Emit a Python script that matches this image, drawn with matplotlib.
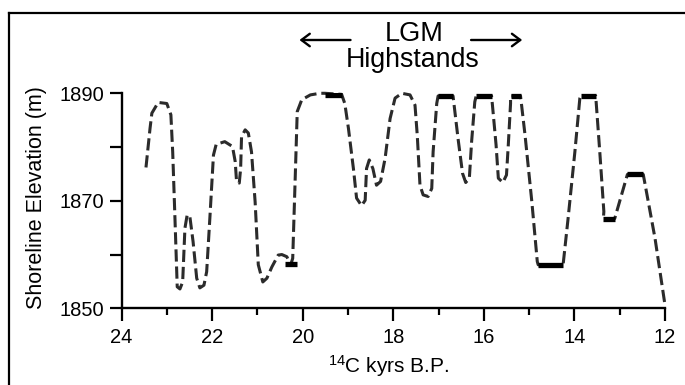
import numpy as np
import matplotlib
matplotlib.use("Agg")
import matplotlib.pyplot as plt
from matplotlib.lines import Line2D
from matplotlib.patches import FancyArrowPatch

# Estilo general
plt.rcParams.update({'font.family': 'Liberation Sans', 'mathtext.fontset': 'custom',
                     'mathtext.rm': 'Liberation Sans', 'mathtext.default': 'regular',
                     'figure.facecolor': 'white'})

# Curva de nivel del lago (edad 14C en kyrs, elevacion en m)
age = [23.46, 23.37, 23.33, 23.19, 23.00, 22.91, 22.87, 22.82, 22.77, 22.71,
       22.65, 22.60, 22.55, 22.49, 22.42, 22.34, 22.27, 22.18, 22.12, 22.05,
       21.97, 21.91, 21.72, 21.55, 21.49, 21.46, 21.40, 21.37, 21.35, 21.27,
       21.20, 21.13, 21.05, 20.98, 20.88, 20.79, 20.68, 20.54, 20.46, 20.35,
       20.30, 20.26, 20.22, 20.17, 20.12, 20.02, 19.83, 19.62, 19.51, 19.14,
       19.07, 18.99, 18.88, 18.81, 18.70, 18.62, 18.59, 18.53, 18.45, 18.37,
       18.28, 18.18, 18.07, 17.96, 17.81, 17.63, 17.52, 17.47, 17.41, 17.34,
       17.23, 17.15, 17.12, 17.04, 17.01, 16.68, 16.57, 16.47, 16.40, 16.32,
       16.27, 16.20, 16.17, 15.83, 15.81, 15.73, 15.68, 15.58, 15.50, 15.46,
       15.41, 15.41, 15.19, 15.09, 14.94, 14.82, 14.80, 14.25, 14.14, 13.99,
       13.88, 13.86, 13.53, 13.44, 13.35, 13.36, 13.11, 12.83, 12.48, 12.22,
       12.00]
elev = [1876.2, 1883.5, 1886.3, 1888.3, 1888.1, 1886.0, 1879.1, 1866.7, 1854.0, 1853.6,
        1854.9, 1864.9, 1867.4, 1867.0, 1862.4, 1855.6, 1853.8, 1854.3, 1856.8, 1866.7,
        1878.5, 1880.5, 1881.0, 1880.1, 1877.3, 1873.6, 1873.3, 1876.0, 1881.9, 1883.2,
        1882.6, 1879.1, 1869.8, 1858.1, 1854.9, 1855.6, 1857.7, 1859.9, 1860.0, 1859.6,
        1858.7, 1858.2, 1859.3, 1872.9, 1886.6, 1888.8, 1889.7, 1890.0, 1890.0, 1889.8,
        1888.1, 1883.5, 1876.0, 1870.5, 1869.1, 1870.1, 1876.0, 1877.6, 1876.0, 1872.9,
        1873.6, 1877.9, 1885.3, 1889.1, 1890.0, 1889.7, 1887.8, 1882.2, 1872.9, 1871.1,
        1870.8, 1872.3, 1879.1, 1888.1, 1889.5, 1889.5, 1881.6, 1875.1, 1873.4, 1874.2,
        1881.0, 1888.4, 1889.5, 1889.5, 1887.8, 1880.4, 1874.2, 1873.4, 1874.8, 1880.4,
        1888.1, 1889.5, 1889.5, 1882.2, 1869.8, 1858.7, 1858.1, 1858.1, 1866.7, 1879.1,
        1889.1, 1889.5, 1889.5, 1879.1, 1868.0, 1866.7, 1866.7, 1874.9, 1874.9, 1863.0,
        1850.6]

# Niveles fechados (barras negras)
bar_old = [20.39, 19.51, 17.01, 16.17, 15.41, 14.80, 13.86, 13.36, 12.83]
bar_young = [20.13, 19.14, 16.68, 15.83, 15.19, 14.25, 13.53, 13.11, 12.48]
bar_elev = [1858.2, 1889.6, 1889.5, 1889.5, 1889.5, 1858.1, 1889.5, 1866.7, 1874.9]

x_ticks = [24, 22, 20, 18, 16, 14, 12]
y_ticks = [1850, 1870, 1890]

fig = plt.figure(figsize=(6.85, 3.85), dpi=100)
ax = fig.add_axes([0.1774, 0.1992, 0.7934, 0.5585])

# Curva discontinua
ax.plot(age, elev, color='#2b2b2b', lw=2.2, ls=(0, (4.0, 1.6)), clip_on=False,
        solid_joinstyle='round', dash_joinstyle='round')

# Barras de altos niveles
ax.hlines(bar_elev, bar_old, bar_young, color='black', lw=3.8, capstyle='butt')

ax.set_xlim(24, 12)
ax.set_ylim(1850, 1890)
ax.set_xticks(x_ticks)
ax.set_xticks([23, 21, 19, 17, 15, 13], minor=True)
ax.set_yticks(y_ticks)
ax.set_yticks([1860, 1880], minor=True)

for s in ['top', 'right']:
    ax.spines[s].set_visible(False)
for s in ['left', 'bottom']:
    ax.spines[s].set_linewidth(1.7)

ax.tick_params(axis='both', which='both', direction='out', width=1.6, labelsize=14.5)
ax.tick_params(axis='x', which='major', length=9.5, pad=4.5)
ax.tick_params(axis='x', which='minor', length=4.8)
ax.tick_params(axis='y', which='both', length=8.4, pad=4)

# Etiquetas de ejes
fig.text(0.0526, 0.487, 'Shoreline Elevation (m)', rotation=90, ha='center', va='center',
         fontsize=15.5)
fig.text(388.5 / 685, 1 - 372.7 / 385, '$^{14}$C kyrs B.P.', ha='center', va='baseline',
         fontsize=15)

# Anotacion LGM
fig.text(414 / 685, 1 - 40.7 / 385, 'LGM', ha='center', va='baseline', fontsize=19.5)
fig.text(413 / 685, 1 - 66.7 / 385, 'Highstands', ha='center', va='baseline', fontsize=19.3)
for x0, x1 in [(353.3, 296.7), (468.3, 525.0)]:
    arr = FancyArrowPatch((x0 / 685, 1 - 40 / 385), (x1 / 685, 1 - 40 / 385),
                          transform=fig.transFigure, arrowstyle='->,head_length=6,head_width=4.5',
                          color='black', lw=1.7, mutation_scale=1)
    fig.patches.append(arr)

# Marco de la figura
fx, fy = 8.8 / 685, 1 - 13 / 385
fig.lines.append(Line2D([fx, fx], [0, fy], transform=fig.transFigure, color='black', lw=1.6))
fig.lines.append(Line2D([fx, 1.0], [fy, fy], transform=fig.transFigure, color='black', lw=1.6))

fig.savefig('out.png', dpi=100)
